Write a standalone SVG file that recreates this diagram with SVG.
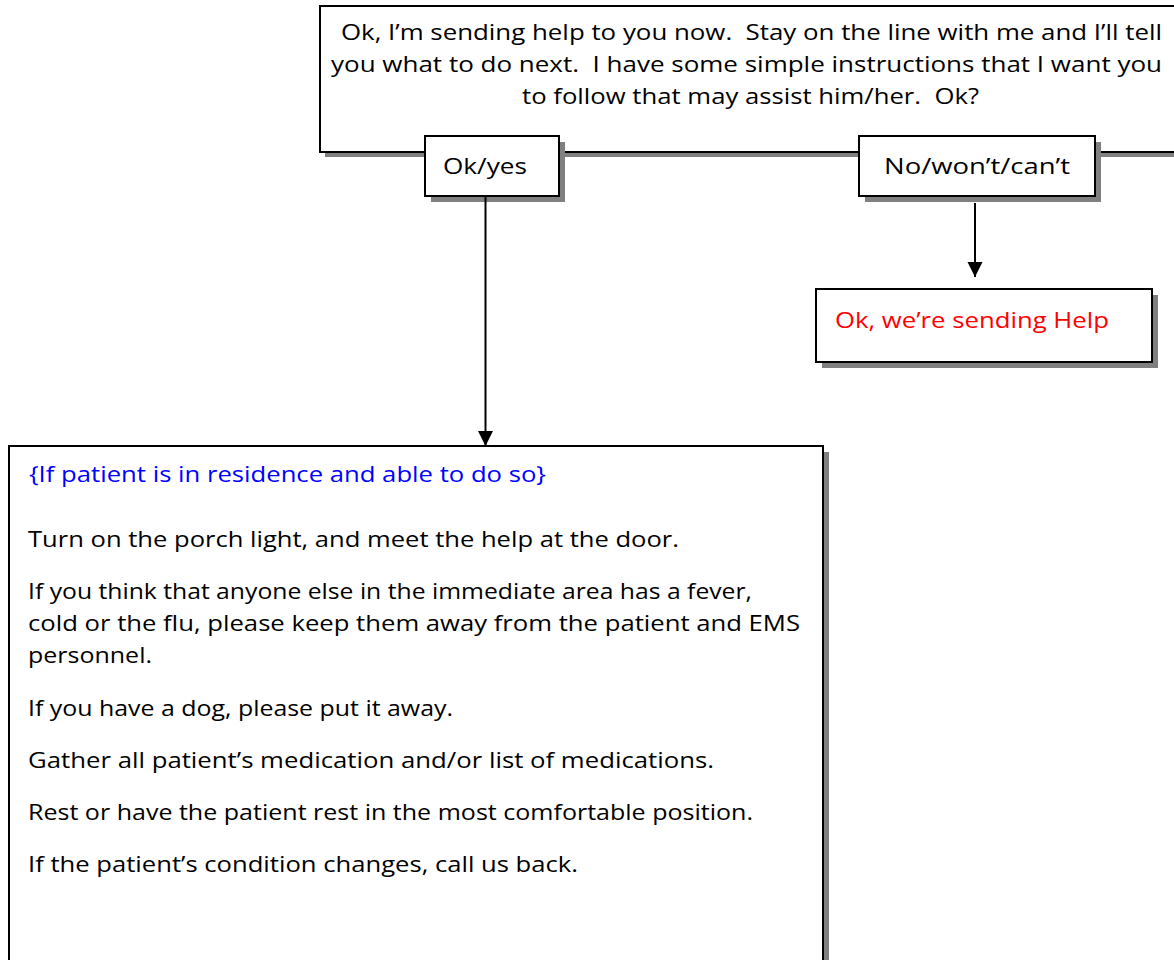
<svg xmlns="http://www.w3.org/2000/svg" width="1174" height="960" viewBox="0 0 1174 960">
<style>
  .box { fill: #ffffff; stroke: #000000; stroke-width: 2; }
  .shadow { fill: #808080; stroke: none; }
  .t { font-family: "Open Sans", "Liberation Sans", sans-serif; font-size: 21px; fill: #000000; }
  .red { fill: #ff0000; }
  .blue { fill: #0000ff; }
  .conn { stroke: #000000; stroke-width: 2; fill: none; marker-end: url(#arrow); }
</style>
<defs>
  <marker id="arrow" markerUnits="userSpaceOnUse" markerWidth="15" markerHeight="16" refX="15" refY="7.5" orient="auto">
    <path d="M0,0 L15,7.5 L0,15 Z" fill="#000000"/>
  </marker>
</defs>
<rect x="0" y="0" width="1174" height="960" fill="#ffffff"/>

<g id="question">
  <rect class="shadow" x="325" y="11" width="860" height="146"/>
  <rect class="box" x="320" y="6" width="860" height="146"/>
  <text class="t" xml:space="preserve" x="341" y="40" textLength="821" lengthAdjust="spacingAndGlyphs">Ok, I’m sending help to you now.  Stay on the line with me and I’ll tell</text>
  <text class="t" xml:space="preserve" x="331" y="72" textLength="831" lengthAdjust="spacingAndGlyphs">you what to do next.  I have some simple instructions that I want you</text>
  <text class="t" xml:space="preserve" x="522" y="104" textLength="457" lengthAdjust="spacingAndGlyphs">to follow that may assist him/her.  Ok?</text>
</g>

<g id="ok-yes">
  <rect class="shadow" x="431" y="142" width="134" height="60"/>
  <rect class="box" x="425" y="136" width="134" height="60"/>
  <text class="t" x="443" y="174" textLength="84" lengthAdjust="spacingAndGlyphs">Ok/yes</text>
</g>

<g id="no-wont-cant">
  <rect class="shadow" x="865" y="142" width="236" height="60"/>
  <rect class="box" x="859" y="136" width="236" height="60"/>
  <text class="t" x="884" y="174" textLength="186" lengthAdjust="spacingAndGlyphs">No/won’t/can’t</text>
</g>

<g id="sending-help">
  <rect class="shadow" x="822" y="295" width="336" height="73"/>
  <rect class="box" x="816" y="289" width="336" height="73"/>
  <text class="t red" x="835" y="328" textLength="274" lengthAdjust="spacingAndGlyphs">Ok, we’re sending Help</text>
</g>

<g id="instructions">
  <rect class="shadow" x="15" y="452" width="814" height="520"/>
  <rect class="box" x="9" y="446" width="814" height="520"/>
  <text class="t blue" x="29" y="482" textLength="517" lengthAdjust="spacingAndGlyphs">{If patient is in residence and able to do so}</text>
  <text class="t" x="28" y="547" textLength="651" lengthAdjust="spacingAndGlyphs">Turn on the porch light, and meet the help at the door.</text>
  <text class="t" x="28" y="599" textLength="724" lengthAdjust="spacingAndGlyphs">If you think that anyone else in the immediate area has a fever,</text>
  <text class="t" x="28" y="631" textLength="772" lengthAdjust="spacingAndGlyphs">cold or the flu, please keep them away from the patient and EMS</text>
  <text class="t" x="28" y="663" textLength="124" lengthAdjust="spacingAndGlyphs">personnel.</text>
  <text class="t" x="28" y="716" textLength="425" lengthAdjust="spacingAndGlyphs">If you have a dog, please put it away.</text>
  <text class="t" x="28" y="768" textLength="686" lengthAdjust="spacingAndGlyphs">Gather all patient’s medication and/or list of medications.</text>
  <text class="t" x="28" y="820" textLength="725" lengthAdjust="spacingAndGlyphs">Rest or have the patient rest in the most comfortable position.</text>
  <text class="t" x="28" y="872" textLength="550" lengthAdjust="spacingAndGlyphs">If the patient’s condition changes, call us back.</text>
</g>

<g id="connectors">
  <line class="conn" x1="485.5" y1="197" x2="485.5" y2="446"/>
  <line class="conn" x1="975" y1="203" x2="975" y2="277"/>
</g>
</svg>
